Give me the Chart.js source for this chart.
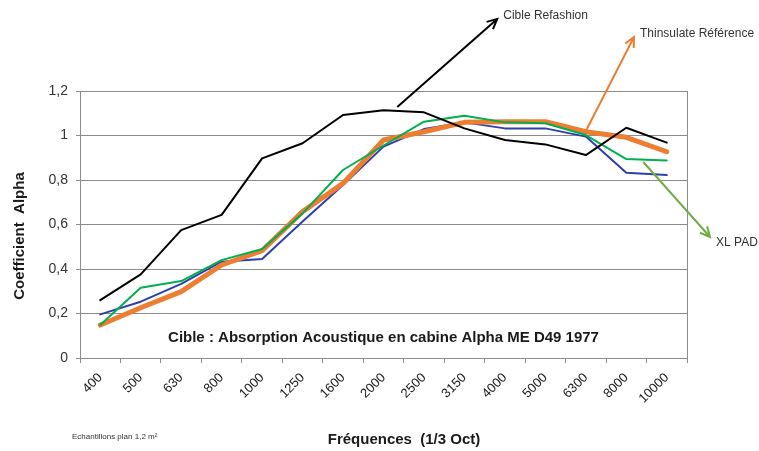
<!DOCTYPE html>
<html>
<head>
<meta charset="utf-8">
<script src="https://cdn.jsdelivr.net/npm/chart.js@4"></script>
<style>
  html, body { margin: 0; padding: 0; background: #fff; }
  #wrap { width: 759px; height: 451px; position: relative; }
</style>
</head>
<body>
<div id="wrap"><canvas id="chart"></canvas></div>
<script>
const frequences = ["400", "500", "630", "800", "1000", "1250", "1600", "2000", "2500", "3150", "4000", "5000", "6300", "8000", "10000"];

const cibleRefashion = [0.26, 0.376, 0.575, 0.643, 0.897, 0.965, 1.092, 1.113, 1.104, 1.032, 0.98, 0.96, 0.912, 1.035, 0.968];
const thinsulate = [0.148, 0.226, 0.298, 0.418, 0.482, 0.658, 0.785, 0.98, 1.017, 1.059, 1.062, 1.062, 1.017, 0.992, 0.927];
const xlPad = [0.148, 0.316, 0.346, 0.44, 0.49, 0.65, 0.845, 0.955, 1.062, 1.089, 1.059, 1.055, 1.002, 0.894, 0.888];
const bleu = [0.196, 0.253, 0.333, 0.433, 0.445, 0.613, 0.778, 0.95, 1.029, 1.059, 1.032, 1.032, 0.995, 0.833, 0.822];

const yTicks = [0, 0.2, 0.4, 0.6, 0.8, 1, 1.2];

// arrows: [from index, from value, to index, to value]
const arrows = [
  { from: [7.34, 1.128], to: [9.81, 1.524], color: "#000000", label: "Cible Refashion" },
  { from: [12.0, 1.02], to: [13.19, 1.443], color: "#ED7D31", label: "Thinsulate Référence" },
  { from: [13.42, 0.881], to: [15.07, 0.544], color: "#70AD47", label: "XL PAD" },
];

const FONT = "'Liberation Sans', Arial, sans-serif";

const annotations = {
  id: "annotations",
  afterDatasetsDraw(chart) {
    const ctx = chart.ctx;
    const x = chart.scales.x, y = chart.scales.y;
    const area = chart.chartArea;
    ctx.save();

    // right border of plot
    ctx.strokeStyle = "#8c8c8c";
    ctx.lineWidth = 1;
    ctx.beginPath();
    ctx.moveTo(area.right + 0.5, area.top);
    ctx.lineTo(area.right + 0.5, area.bottom);
    ctx.stroke();

    arrows.forEach((a) => {
      const x1 = x.getPixelForValue(a.from[0]), y1 = y.getPixelForValue(a.from[1]);
      const x2 = x.getPixelForValue(a.to[0]), y2 = y.getPixelForValue(a.to[1]);
      ctx.strokeStyle = a.color;
      ctx.lineWidth = 2;
      ctx.beginPath();
      ctx.moveTo(x1, y1);
      ctx.lineTo(x2, y2);
      const ang = Math.atan2(y2 - y1, x2 - x1);
      const len = 11;
      ctx.moveTo(x2 - len * Math.cos(ang - 0.45), y2 - len * Math.sin(ang - 0.45));
      ctx.lineTo(x2, y2);
      ctx.lineTo(x2 - len * Math.cos(ang + 0.45), y2 - len * Math.sin(ang + 0.45));
      ctx.stroke();

      ctx.fillStyle = "#333333";
      ctx.font = "12px " + FONT;
      ctx.textAlign = "left";
      ctx.textBaseline = "middle";
      ctx.fillText(a.label, x2 + 6, y2 - (a.to[1] > 1.2 ? 3 : -6));
    });

    // chart caption inside the plot
    ctx.fillStyle = "#1a1a1a";
    ctx.font = "bold 15px " + FONT;
    ctx.textAlign = "center";
    ctx.textBaseline = "middle";
    ctx.fillText("Cible : Absorption Acoustique en cabine Alpha ME D49 1977", (area.left + area.right) / 2, y.getPixelForValue(0.09));

    // x axis title
    ctx.fillText("Fréquences  (1/3 Oct)", 404, 440);

    // y axis title
    ctx.save();
    ctx.translate(20, 236);
    ctx.rotate(-Math.PI / 2);
    ctx.fillText("Coefficient  Alpha", 0, 0);
    ctx.restore();

    // footnote
    ctx.font = "8px " + FONT;
    ctx.textAlign = "left";
    ctx.fillStyle = "#333333";
    ctx.fillText("Echantillons plan 1,2 m\u00B2", 72, 437);
    ctx.restore();
  },
};

new Chart(document.getElementById("chart"), {
  type: "line",
  data: {
    labels: frequences,
    datasets: [
      { label: "Cible Refashion", data: cibleRefashion, borderColor: "#000000", borderWidth: 2 },
      { label: "XL PAD", data: xlPad, borderColor: "#00B050", borderWidth: 2 },
      { label: "Thinsulate Référence", data: thinsulate, borderColor: "#ED7D31", borderWidth: 5 },
      { label: "Bleu", data: bleu, borderColor: "#2F3FAE", borderWidth: 2 },
    ],
  },
  options: {
    responsive: true,
    maintainAspectRatio: false,
    animation: false,
    elements: {
      point: { radius: 0 },
      line: { tension: 0, borderJoinStyle: "round", borderCapStyle: "round" },
    },
    layout: { padding: { top: 91, right: 72, left: 0, bottom: 0 } },
    plugins: {
      legend: { display: false },
      tooltip: { enabled: false },
    },
    scales: {
      x: {
        offset: true,
        afterFit(scale) { scale.height = 93; },
        grid: { drawOnChartArea: false, drawTicks: true, tickLength: 5, color: "#8c8c8c", offset: true },
        border: { color: "#8c8c8c" },
        ticks: {
          minRotation: 45,
          maxRotation: 45,
          color: "#1a1a1a",
          font: { family: FONT, size: 13 },
          padding: 7,
        },
      },
      y: {
        min: 0,
        max: 1.2,
        afterFit(scale) { scale.width = 80; },
        afterBuildTicks(scale) { scale.ticks = yTicks.map((v) => ({ value: v })); },
        grid: { color: "#8c8c8c", tickLength: 4 },
        border: { color: "#8c8c8c" },
        ticks: {
          color: "#333333",
          padding: 8,
          font: { family: FONT, size: 14 },
          callback: (v) => String(Math.round(v * 10) / 10).replace(".", ","),
        },
      },
    },
  },
  plugins: [annotations],
});
</script>
</body>
</html>
